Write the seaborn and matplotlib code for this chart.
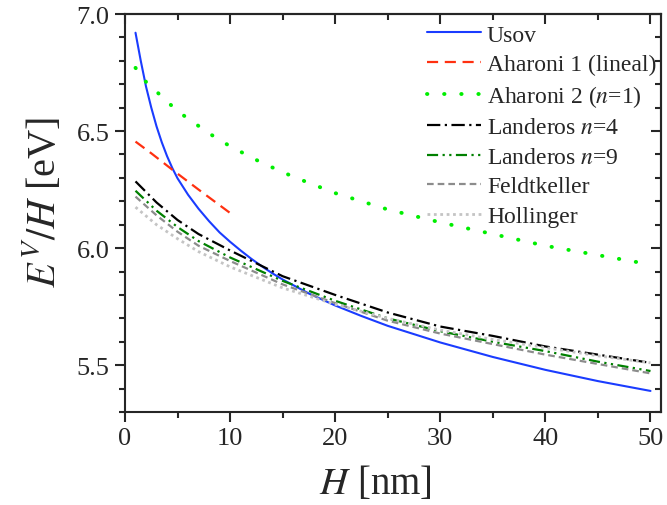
import numpy as np
import pandas as pd
import matplotlib
matplotlib.use("Agg")
import matplotlib.pyplot as plt
import seaborn as sns

# ---- data ----
H_usov = [1, 1.5, 2, 2.5, 3, 3.5, 4, 4.5, 5, 6, 7, 8, 9, 10, 11, 12, 13, 14, 15,
          17.5, 20, 22.5, 25, 30, 35, 40, 45, 50]
E_usov = [6.92, 6.80, 6.69, 6.60, 6.52, 6.452, 6.393, 6.342, 6.298, 6.228, 6.168, 6.115,
          6.067, 6.027, 5.99, 5.955, 5.923, 5.893, 5.866, 5.806, 5.755, 5.71, 5.668,
          5.597, 5.535, 5.48, 5.432, 5.39]

H_ah1 = [1, 2.5, 4.5, 7, 10]
E_ah1 = [6.455, 6.405, 6.335, 6.25, 6.15]

H_ah2 = [1, 2, 5, 8, 10, 13, 16, 20, 25, 30, 35, 40, 45, 50]
E_ah2 = [6.77, 6.71, 6.585, 6.49, 6.435, 6.365, 6.305, 6.235, 6.165, 6.11, 6.06,
         6.01, 5.97, 5.93]

H_lan = [1, 3, 5, 7, 10, 15, 20, 25, 30, 35, 40, 45, 50]
E_lan4 = [6.285, 6.195, 6.12, 6.06, 5.99, 5.88, 5.80, 5.725, 5.665, 5.625, 5.58, 5.545, 5.51]
E_lan9 = [6.245, 6.16, 6.09, 6.03, 5.96, 5.86, 5.775, 5.70, 5.645, 5.60, 5.56, 5.515, 5.475]
E_feld = [6.22, 6.14, 6.07, 6.01, 5.945, 5.845, 5.765, 5.69, 5.635, 5.59, 5.545, 5.505, 5.465]
E_holl = [6.175, 6.10, 6.04, 5.985, 5.92, 5.83, 5.76, 5.70, 5.65, 5.61, 5.575, 5.54, 5.51]

labels = ["Usov", "Aharoni 1 (lineal)", r"Aharoni 2 ($n$=1)", r"Landeros $n$=4",
          r"Landeros $n$=9", "Feldtkeller", "Hollinger"]

x_ticks = [0, 10, 20, 30, 40, 50]
y_ticks = [5.5, 6.0, 6.5, 7.0]

# ---- style ----
sns.set_style("ticks")
plt.rcParams["font.family"] = "serif"
plt.rcParams["font.serif"] = ["Liberation Serif", "STIXGeneral", "DejaVu Serif"]
plt.rcParams["mathtext.fontset"] = "stix"
plt.rcParams["axes.linewidth"] = 1.5

fig = plt.figure(figsize=(6.67, 5.06), dpi=100)
ax = fig.add_axes([125/667, 1-413/506, (661-125)/667, (413-15)/506])

series = [
    (H_usov, E_usov, "#1a3cff", dict(lw=1.5, linestyle="-")),
    (H_ah1, E_ah1, "#ff3010", dict(lw=1.6, linestyle=(0, (5, 3)))),
    (H_ah2, E_ah2, "#00ee00", dict(lw=2.8, linestyle=(0, (0.1, 4.3)), dash_capstyle="round")),
    (H_lan, E_lan4, "#000000", dict(lw=1.6, linestyle=(0, (6, 2, 1, 2)))),
    (H_lan, E_lan9, "#008000", dict(lw=1.6, linestyle=(0, (5, 2, 1, 2, 1, 2)))),
    (H_lan, E_feld, "#8c8c8c", dict(lw=1.6, linestyle=(0, (3, 1.8)))),
    (H_lan, E_holl, "#c4c4c4", dict(lw=2.0, linestyle=(0, (1, 1.3)))),
]

for (hx, ey, col, kw), lab in zip(series, labels):
    df = pd.DataFrame({"H": hx, "E": ey})
    sns.lineplot(data=df, x="H", y="E", ax=ax, color=col, label=lab, sort=False, **kw)

ax.set_xlim(0, 51)
ax.set_ylim(5.3, 7.0)
ax.set_xticks(x_ticks)
ax.set_yticks(y_ticks)
ax.set_xticklabels([str(v) for v in x_ticks])
ax.set_yticklabels([f"{v:.1f}" for v in y_ticks])
ax.xaxis.set_minor_locator(matplotlib.ticker.MultipleLocator(5))
ax.yaxis.set_minor_locator(matplotlib.ticker.MultipleLocator(0.1))
ax.tick_params(which="major", direction="out", length=7, width=1.5, labelsize=19, pad=4)
ax.tick_params(which="minor", direction="out", length=4, width=1.5)
for s in ["top", "right"]:
    ax.spines[s].set_visible(True)

# mirrored inward ticks on top/right
secx = ax.secondary_xaxis("top")
secx.set_xticks(x_ticks)
secx.xaxis.set_minor_locator(matplotlib.ticker.MultipleLocator(5))
secx.tick_params(which="major", direction="in", length=7, width=1.5, labeltop=False)
secx.tick_params(which="minor", direction="in", length=4, width=1.5)
secx.spines["top"].set_linewidth(1.5)
secy = ax.secondary_yaxis("right")
secy.set_yticks(y_ticks)
secy.yaxis.set_minor_locator(matplotlib.ticker.MultipleLocator(0.1))
secy.tick_params(which="major", direction="in", length=7, width=1.5, labelright=False)
secy.tick_params(which="minor", direction="in", length=4, width=1.5)
secy.spines["right"].set_linewidth(1.5)

ax.set_xlabel(r"$H$ [nm]", fontsize=28)
ax.set_ylabel(r"$E^V/H$ [eV]", fontsize=29)
ax.xaxis.set_label_coords((375-125)/536, (413-484)/398)
ax.xaxis.label.set_va("center")
ax.yaxis.set_label_coords((44-125)/536, (413-202)/398)
ax.yaxis.label.set_va("center")
ax.yaxis.label.set_ha("center")

leg = ax.legend(loc="upper left", bbox_to_anchor=(427/667, 1-25/506),
                bbox_transform=fig.transFigure, frameon=False, fontsize=17,
                handlelength=2.29, handletextpad=0.25, labelspacing=0.337,
                borderpad=0, borderaxespad=0)

fig.savefig("out.png", dpi=100)
